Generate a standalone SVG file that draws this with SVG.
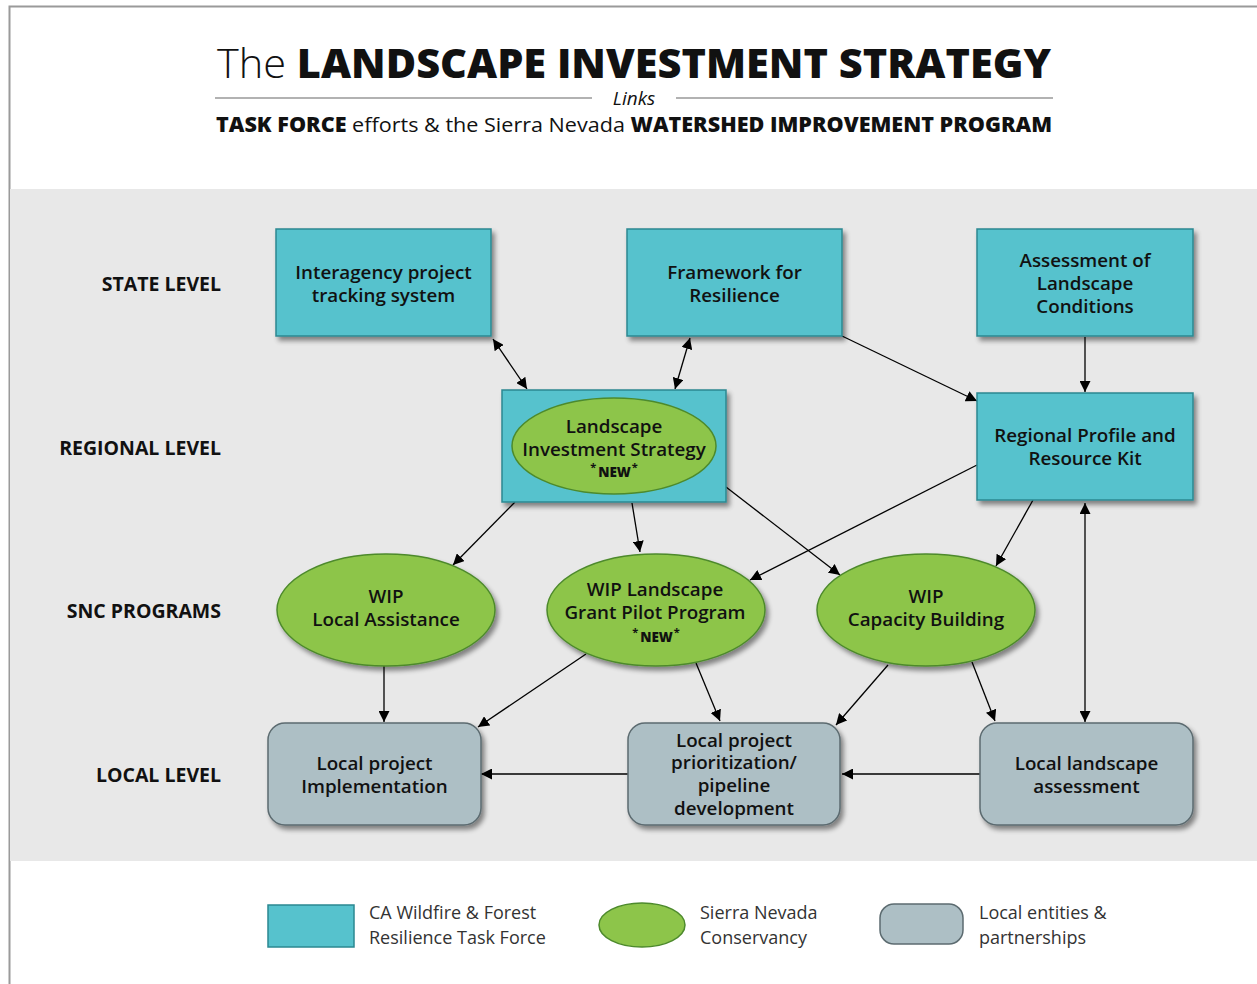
<svg xmlns="http://www.w3.org/2000/svg" width="1257" height="984" viewBox="0 0 1257 984">
<defs>
<filter id="sh" x="-10%" y="-10%" width="130%" height="140%">
<feGaussianBlur in="SourceAlpha" stdDeviation="2.5"/>
<feOffset dx="3" dy="4" result="b"/>
<feComponentTransfer><feFuncA type="linear" slope="0.45"/></feComponentTransfer>
<feMerge><feMergeNode/><feMergeNode in="SourceGraphic"/></feMerge>
</filter>
<marker id="ah" viewBox="0 0 10 10" refX="10" refY="5" markerWidth="11" markerHeight="11" markerUnits="userSpaceOnUse" orient="auto-start-reverse">
<path d="M0,0 L10,5 L0,10 z" fill="#000"/>
</marker>
</defs>
<style>
.teal{fill:#56C2CD;stroke:#2B8891;stroke-width:1.5}
.green{fill:#8DC54A;stroke:#4D8A2C;stroke-width:1.5}
.gray{fill:#ADBFC5;stroke:#5C6B70;stroke-width:1.5}
.t{font-family:"Open Sans","Noto Sans",sans-serif;font-weight:600;font-size:18.8px;fill:#111;text-anchor:middle}
.new{font-family:"Open Sans",sans-serif;font-weight:800;font-size:13.5px;fill:#111;text-anchor:middle}
.star{font-weight:700;font-size:11px}
.lvl{font-family:"Open Sans",sans-serif;font-weight:700;font-size:19.5px;fill:#111;text-anchor:end}
.leg{font-family:"Open Sans",sans-serif;font-size:18px;fill:#333}
.c line{stroke:#000;stroke-width:1.3;marker-end:url(#ah)}
.c line.d{marker-start:url(#ah)}
</style>
<rect x="0" y="0" width="1257" height="984" fill="#fff"/>
<path d="M9.5,984 V6.5 H1257" fill="none" stroke="#9a9a9a" stroke-width="2"/>
<rect x="10" y="189" width="1247" height="672" fill="#E8E8E8"/>
<g id="title">
<text x="217" y="78" textLength="834" lengthAdjust="spacingAndGlyphs" font-family="Open Sans, sans-serif" font-size="40" fill="#111"><tspan font-weight="300">The </tspan><tspan font-weight="800">LANDSCAPE INVESTMENT STRATEGY</tspan></text>
<line x1="215" y1="98" x2="592" y2="98" stroke="#999" stroke-width="1.5"/>
<line x1="676" y1="98" x2="1053" y2="98" stroke="#999" stroke-width="1.5"/>
<text x="634" y="105" text-anchor="middle" font-family="Open Sans, sans-serif" font-style="italic" font-size="19" fill="#111">Links</text>
<text x="216" y="132" textLength="836" lengthAdjust="spacingAndGlyphs" font-family="Open Sans, sans-serif" font-size="20.5" fill="#111"><tspan font-weight="800">TASK FORCE</tspan><tspan font-weight="400"> efforts &amp; the Sierra Nevada </tspan><tspan font-weight="800">WATERSHED IMPROVEMENT PROGRAM</tspan></text>
</g>
<g id="levels">
<text class="lvl" x="221" y="291">STATE LEVEL</text>
<text class="lvl" x="221" y="455">REGIONAL LEVEL</text>
<text class="lvl" x="221" y="618">SNC PROGRAMS</text>
<text class="lvl" x="221" y="782">LOCAL LEVEL</text>
</g>
<g class="c" id="connectors">
<line class="d" x1="493" y1="339" x2="527" y2="389"/>
<line class="d" x1="690" y1="338" x2="675" y2="389"/>
<line x1="842" y1="336" x2="977" y2="401"/>
<line x1="1085" y1="337" x2="1085" y2="392"/>
<line x1="515" y1="502" x2="453" y2="565"/>
<line x1="632" y1="503" x2="640" y2="552"/>
<line x1="726" y1="487" x2="840" y2="575"/>
<line x1="977" y1="465" x2="750" y2="580"/>
<line x1="1033" y1="500" x2="996" y2="566"/>
<line class="d" x1="1085" y1="503" x2="1085" y2="722"/>
<line x1="384" y1="666" x2="384" y2="722"/>
<line x1="586" y1="654" x2="478" y2="727"/>
<line x1="696" y1="663" x2="720" y2="721"/>
<line x1="888" y1="665" x2="836" y2="725"/>
<line x1="972" y1="662" x2="995" y2="721"/>
<line x1="628" y1="774" x2="481" y2="774"/>
<line x1="980" y1="774" x2="842" y2="774"/>
</g>
<g id="n-interagency">
<rect class="teal" x="276" y="229" width="215" height="107" filter="url(#sh)"/>
<text class="t" x="383.5" y="279">Interagency project</text>
<text class="t" x="383.5" y="302">tracking system</text>
</g>
<g id="n-framework">
<rect class="teal" x="627" y="229" width="215" height="107" filter="url(#sh)"/>
<text class="t" x="734.5" y="279">Framework for</text>
<text class="t" x="734.5" y="302">Resilience</text>
</g>
<g id="n-assessment">
<rect class="teal" x="977" y="229" width="216" height="107" filter="url(#sh)"/>
<text class="t" x="1085" y="267">Assessment of</text>
<text class="t" x="1085" y="290">Landscape</text>
<text class="t" x="1085" y="313">Conditions</text>
</g>
<g id="n-lis">
<rect class="teal" x="502" y="390" width="224" height="112" filter="url(#sh)"/>
<ellipse class="green" cx="614" cy="446" rx="102" ry="48"/>
<text class="t" x="614" y="433">Landscape</text>
<text class="t" x="614" y="456">Investment Strategy</text>
<text class="new" x="614" y="477"><tspan class="star" dy="-6">*</tspan><tspan dx="2" dy="6">NEW</tspan><tspan class="star" dx="1" dy="-6">*</tspan></text>
</g>
<g id="n-regional">
<rect class="teal" x="977" y="393" width="216" height="107" filter="url(#sh)"/>
<text class="t" x="1085" y="442">Regional Profile and</text>
<text class="t" x="1085" y="465">Resource Kit</text>
</g>
<g id="n-wip-local">
<ellipse class="green" cx="386" cy="610" rx="109" ry="56" filter="url(#sh)"/>
<text class="t" x="386" y="603">WIP</text>
<text class="t" x="386" y="626">Local Assistance</text>
</g>
<g id="n-wip-grant">
<ellipse class="green" cx="656" cy="610" rx="109" ry="56" filter="url(#sh)"/>
<text class="t" x="655" y="596">WIP Landscape</text>
<text class="t" x="655" y="619">Grant Pilot Program</text>
<text class="new" x="656" y="642"><tspan class="star" dy="-6">*</tspan><tspan dx="2" dy="6">NEW</tspan><tspan class="star" dx="1" dy="-6">*</tspan></text>
</g>
<g id="n-wip-capacity">
<ellipse class="green" cx="926" cy="610" rx="109" ry="56" filter="url(#sh)"/>
<text class="t" x="926" y="603">WIP</text>
<text class="t" x="926" y="626">Capacity Building</text>
</g>
<g id="n-local-impl">
<rect class="gray" x="268" y="723" width="213" height="102" rx="17" filter="url(#sh)"/>
<text class="t" x="374.5" y="770">Local project</text>
<text class="t" x="374.5" y="793">Implementation</text>
</g>
<g id="n-local-prior">
<rect class="gray" x="628" y="723" width="212" height="102" rx="17" filter="url(#sh)"/>
<text class="t" x="734" y="747">Local project</text>
<text class="t" x="734" y="769">prioritization/</text>
<text class="t" x="734" y="792">pipeline</text>
<text class="t" x="734" y="815">development</text>
</g>
<g id="n-local-assess">
<rect class="gray" x="980" y="723" width="213" height="102" rx="17" filter="url(#sh)"/>
<text class="t" x="1086.5" y="770">Local landscape</text>
<text class="t" x="1086.5" y="793">assessment</text>
</g>
<g id="legend">
<rect x="268" y="905" width="86" height="42" fill="#56C2CD" stroke="#2B8891" stroke-width="1.5"/>
<text class="leg" x="369" y="919">CA Wildfire &amp; Forest</text>
<text class="leg" x="369" y="944">Resilience Task Force</text>
<ellipse cx="642" cy="925" rx="43" ry="22" fill="#8DC54A" stroke="#4D8A2C" stroke-width="1.5"/>
<text class="leg" x="700" y="919">Sierra Nevada</text>
<text class="leg" x="700" y="944">Conservancy</text>
<rect x="880" y="904" width="83" height="40" rx="14" fill="#ADBFC5" stroke="#5C6B70" stroke-width="1.5"/>
<text class="leg" x="979" y="919">Local entities &amp;</text>
<text class="leg" x="979" y="944">partnerships</text>
</g>
</svg>
